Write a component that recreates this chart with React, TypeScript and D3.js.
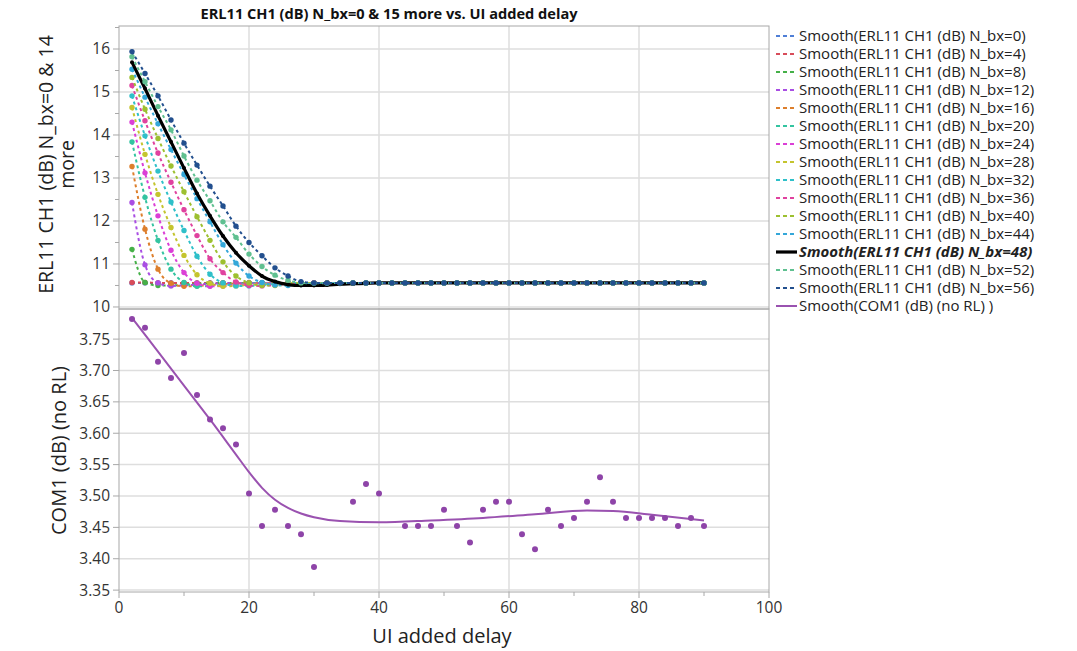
import React from 'react';
import * as d3 from 'd3';

// UI added delay values shared by every series
const delays = [
  2, 4, 6, 8, 10, 12, 14, 16, 18, 20, 22, 24, 26, 28, 30,
  32, 34, 36, 38, 40, 42, 44, 46, 48, 50, 52, 54, 56, 58, 60,
  62, 64, 66, 68, 70, 72, 74, 76, 78, 80, 82, 84, 86, 88, 90,
];

// ERL11 CH1 (dB), one array per N_bx setting
const erlNbx0 = [
  10.56, 10.56, 10.56, 10.56, 10.56, 10.56, 10.56, 10.56, 10.56, 10.56, 10.56, 10.56, 10.56, 10.56, 10.56,
  10.56, 10.56, 10.56, 10.56, 10.56, 10.56, 10.56, 10.56, 10.56, 10.56, 10.56, 10.56, 10.56, 10.56, 10.56,
  10.56, 10.56, 10.56, 10.56, 10.56, 10.56, 10.56, 10.56, 10.56, 10.56, 10.56, 10.56, 10.56, 10.56, 10.56,
];
const erlNbx4 = [
  10.57, 10.57, 10.56, 10.56, 10.56, 10.56, 10.56, 10.56, 10.56, 10.56, 10.56, 10.56, 10.56, 10.56, 10.56,
  10.56, 10.56, 10.56, 10.56, 10.56, 10.56, 10.56, 10.56, 10.56, 10.56, 10.56, 10.56, 10.56, 10.56, 10.56,
  10.56, 10.56, 10.56, 10.56, 10.56, 10.56, 10.56, 10.56, 10.56, 10.56, 10.56, 10.56, 10.56, 10.56, 10.56,
];
const erlNbx8 = [
  11.34, 10.57, 10.50, 10.50, 10.52, 10.54, 10.55, 10.56, 10.56, 10.56, 10.56, 10.56, 10.56, 10.56, 10.56,
  10.56, 10.56, 10.56, 10.56, 10.56, 10.56, 10.56, 10.56, 10.56, 10.56, 10.56, 10.56, 10.56, 10.56, 10.56,
  10.56, 10.56, 10.56, 10.56, 10.56, 10.56, 10.56, 10.56, 10.56, 10.56, 10.56, 10.56, 10.56, 10.56, 10.56,
];
const erlNbx12 = [
  12.43, 10.98, 10.56, 10.49, 10.50, 10.52, 10.54, 10.55, 10.56, 10.56, 10.56, 10.56, 10.56, 10.56, 10.56,
  10.56, 10.56, 10.56, 10.56, 10.56, 10.56, 10.56, 10.56, 10.56, 10.56, 10.56, 10.56, 10.56, 10.56, 10.56,
  10.56, 10.56, 10.56, 10.56, 10.56, 10.56, 10.56, 10.56, 10.56, 10.56, 10.56, 10.56, 10.56, 10.56, 10.56,
];
const erlNbx16 = [
  13.27, 11.81, 10.88, 10.55, 10.48, 10.49, 10.51, 10.53, 10.55, 10.56, 10.56, 10.56, 10.56, 10.56, 10.56,
  10.56, 10.56, 10.56, 10.56, 10.56, 10.56, 10.56, 10.56, 10.56, 10.56, 10.56, 10.56, 10.56, 10.56, 10.56,
  10.56, 10.56, 10.56, 10.56, 10.56, 10.56, 10.56, 10.56, 10.56, 10.56, 10.56, 10.56, 10.56, 10.56, 10.56,
];
const erlNbx20 = [
  13.84, 12.55, 11.55, 10.88, 10.57, 10.48, 10.49, 10.51, 10.53, 10.55, 10.56, 10.56, 10.56, 10.56, 10.56,
  10.56, 10.56, 10.56, 10.56, 10.56, 10.56, 10.56, 10.56, 10.56, 10.56, 10.56, 10.56, 10.56, 10.56, 10.56,
  10.56, 10.56, 10.56, 10.56, 10.56, 10.56, 10.56, 10.56, 10.56, 10.56, 10.56, 10.56, 10.56, 10.56, 10.56,
];
const erlNbx24 = [
  14.30, 13.12, 12.12, 11.32, 10.80, 10.55, 10.48, 10.49, 10.51, 10.53, 10.55, 10.56, 10.56, 10.56, 10.56,
  10.56, 10.56, 10.56, 10.56, 10.56, 10.56, 10.56, 10.56, 10.56, 10.56, 10.56, 10.56, 10.56, 10.56, 10.56,
  10.56, 10.56, 10.56, 10.56, 10.56, 10.56, 10.56, 10.56, 10.56, 10.56, 10.56, 10.56, 10.56, 10.56, 10.56,
];
const erlNbx28 = [
  14.64, 13.55, 12.62, 11.85, 11.20, 10.75, 10.55, 10.48, 10.49, 10.51, 10.53, 10.55, 10.56, 10.56, 10.56,
  10.56, 10.56, 10.56, 10.56, 10.56, 10.56, 10.56, 10.56, 10.56, 10.56, 10.56, 10.56, 10.56, 10.56, 10.56,
  10.56, 10.56, 10.56, 10.56, 10.56, 10.56, 10.56, 10.56, 10.56, 10.56, 10.56, 10.56, 10.56, 10.56, 10.56,
];
const erlNbx32 = [
  14.91, 13.98, 13.16, 12.44, 11.78, 11.18, 10.76, 10.56, 10.49, 10.49, 10.51, 10.53, 10.55, 10.56, 10.56,
  10.56, 10.56, 10.56, 10.56, 10.56, 10.56, 10.56, 10.56, 10.56, 10.56, 10.56, 10.56, 10.56, 10.56, 10.56,
  10.56, 10.56, 10.56, 10.56, 10.56, 10.56, 10.56, 10.56, 10.56, 10.56, 10.56, 10.56, 10.56, 10.56, 10.56,
];
const erlNbx36 = [
  15.15, 14.33, 13.58, 12.90, 12.26, 11.66, 11.12, 10.80, 10.58, 10.50, 10.49, 10.51, 10.53, 10.55, 10.56,
  10.56, 10.56, 10.56, 10.56, 10.56, 10.56, 10.56, 10.56, 10.56, 10.56, 10.56, 10.56, 10.56, 10.56, 10.56,
  10.56, 10.56, 10.56, 10.56, 10.56, 10.56, 10.56, 10.56, 10.56, 10.56, 10.56, 10.56, 10.56, 10.56, 10.56,
];
const erlNbx40 = [
  15.34, 14.60, 13.92, 13.28, 12.68, 12.10, 11.55, 11.05, 10.72, 10.56, 10.50, 10.50, 10.52, 10.54, 10.55,
  10.56, 10.56, 10.56, 10.56, 10.56, 10.56, 10.56, 10.56, 10.56, 10.56, 10.56, 10.56, 10.56, 10.56, 10.56,
  10.56, 10.56, 10.56, 10.56, 10.56, 10.56, 10.56, 10.56, 10.56, 10.56, 10.56, 10.56, 10.56, 10.56, 10.56,
];
const erlNbx44 = [
  15.53, 14.88, 14.26, 13.66, 13.08, 12.52, 11.98, 11.45, 11.02, 10.72, 10.57, 10.51, 10.50, 10.52, 10.54,
  10.55, 10.56, 10.56, 10.56, 10.56, 10.56, 10.56, 10.56, 10.56, 10.56, 10.56, 10.56, 10.56, 10.56, 10.56,
  10.56, 10.56, 10.56, 10.56, 10.56, 10.56, 10.56, 10.56, 10.56, 10.56, 10.56, 10.56, 10.56, 10.56, 10.56,
];
const erlNbx48 = [
  15.69, 15.08, 14.45, 13.84, 13.23, 12.64, 12.12, 11.65, 11.26, 10.96, 10.72, 10.59, 10.52, 10.50, 10.50,
  10.51, 10.53, 10.54, 10.55, 10.56, 10.56, 10.56, 10.56, 10.56, 10.56, 10.56, 10.56, 10.56, 10.56, 10.56,
  10.56, 10.56, 10.56, 10.56, 10.56, 10.56, 10.56, 10.56, 10.56, 10.56, 10.56, 10.56, 10.56, 10.56, 10.56,
];
const erlNbx52 = [
  15.82, 15.24, 14.66, 14.12, 13.51, 12.95, 12.47, 11.98, 11.62, 11.23, 10.94, 10.74, 10.62, 10.56, 10.55,
  10.55, 10.56, 10.56, 10.56, 10.56, 10.56, 10.56, 10.56, 10.56, 10.56, 10.56, 10.56, 10.56, 10.56, 10.56,
  10.56, 10.56, 10.56, 10.56, 10.56, 10.56, 10.56, 10.56, 10.56, 10.56, 10.56, 10.56, 10.56, 10.56, 10.56,
];
const erlNbx56 = [
  15.94, 15.43, 14.91, 14.35, 13.81, 13.30, 12.81, 12.35, 11.88, 11.50, 11.19, 10.91, 10.72, 10.59, 10.56,
  10.56, 10.56, 10.56, 10.56, 10.56, 10.56, 10.56, 10.56, 10.56, 10.56, 10.56, 10.56, 10.56, 10.56, 10.56,
  10.56, 10.56, 10.56, 10.56, 10.56, 10.56, 10.56, 10.56, 10.56, 10.56, 10.56, 10.56, 10.56, 10.56, 10.56,
];

const nbxSettings = [0, 4, 8, 12, 16, 20, 24, 28, 32, 36, 40, 44, 48, 52, 56];
const erlValues = [
  erlNbx0, erlNbx4, erlNbx8, erlNbx12, erlNbx16, erlNbx20, erlNbx24, erlNbx28,
  erlNbx32, erlNbx36, erlNbx40, erlNbx44, erlNbx48, erlNbx52, erlNbx56,
];
const erlColors = [
  '#4f7fd6', '#d84c5a', '#45b048', '#a94ee3', '#dd7f2c', '#33c4a0', '#db3fd6', '#c4c42e',
  '#2fc0c9', '#e0429f', '#9dc030', '#34a7d9', '#000000', '#5fc090', '#224f8e',
];
const highlightedNbx = 48;

// COM1 (dB) (no RL) observations
const comDelays = [
  2, 4, 6, 8, 10, 12, 14, 16, 18, 20, 22, 24, 26, 28, 30,
  36, 38, 40, 44, 46, 48, 50, 52, 54, 56, 58, 60, 62, 64, 66,
  68, 70, 72, 74, 76, 78, 80, 82, 84, 86, 88, 90,
];
const comValues = [
  3.782, 3.768, 3.714, 3.688, 3.728, 3.661, 3.622, 3.608, 3.582, 3.504, 3.452, 3.478, 3.452, 3.439, 3.387,
  3.491, 3.519, 3.504, 3.452, 3.452, 3.452, 3.478, 3.452, 3.426, 3.478, 3.491, 3.491, 3.439, 3.415, 3.478,
  3.452, 3.465, 3.491, 3.530, 3.491, 3.465, 3.465, 3.465, 3.465, 3.452, 3.465, 3.452,
];
// smoothed COM1 curve
const comSmoothDelays = [2, 6, 10, 14, 18, 20, 22, 24, 26, 28, 30, 34, 40, 48, 56, 64, 72, 76, 82, 90];
const comSmoothValues = [
  3.784, 3.730, 3.676, 3.622, 3.566, 3.538, 3.513, 3.494, 3.481, 3.472, 3.466, 3.460, 3.458, 3.461,
  3.465, 3.471, 3.477, 3.476, 3.470, 3.461,
];

const xTicks = [0, 20, 40, 60, 80, 100];
const xMinorTicks = [10, 30, 50, 70, 90];
const erlTicks = [10, 11, 12, 13, 14, 15, 16];
const erlMinorTicks = [10.5, 11.5, 12.5, 13.5, 14.5, 15.5, 16.5];
const comTicks = [3.35, 3.4, 3.45, 3.5, 3.55, 3.6, 3.65, 3.7, 3.75];

const FONT = "'Open Sans', 'Noto Sans', sans-serif";
const W = 1077;
const H = 651;
const left = 119;
const right = 769;
const topY = 26;
const midY = 309;
const bottomY = 592;

export default function App() {
  const x = d3.scaleLinear().domain([0, 100]).range([left, right]);
  const yErl = d3.scaleLinear().domain([9.953, 16.535]).range([midY, topY]);
  const yCom = d3.scaleLinear().domain([3.347, 3.798]).range([bottomY, midY]);

  const erlLine = d3
    .line<number>()
    .x((_, i) => x(delays[i]))
    .y((v) => yErl(v))
    .curve(d3.curveMonotoneX);

  const comLine = d3
    .line<number>()
    .x((_, i) => x(comSmoothDelays[i]))
    .y((v) => yCom(v))
    .curve(d3.curveMonotoneX);

  const grid = '#dedede';
  const frame = '#a8a8a8';
  const tickText = '#333';

  return (
    <svg
      width={W}
      height={H}
      style={{ position: 'absolute', left: 0, top: 0, background: '#fff' }}
      fontFamily={FONT}
    >
      <defs>
        <clipPath id="erlClip">
          <rect x={left} y={topY} width={right - left} height={midY - topY} />
        </clipPath>
        <clipPath id="comClip">
          <rect x={left} y={midY} width={right - left} height={bottomY - midY} />
        </clipPath>
      </defs>

      {/* title */}
      <text x={389} y={19} textAnchor="middle" fontSize={14.6} fontWeight="bold" fill="#111">
        ERL11 CH1 (dB) N_bx=0 &amp; 15 more vs. UI added delay
      </text>

      {/* grid lines */}
      {erlTicks.map((t) => (
        <line key={'ge' + t} x1={left} x2={right} y1={yErl(t)} y2={yErl(t)} stroke={grid} strokeWidth={1.5} />
      ))}
      {comTicks.map((t) => (
        <line key={'gc' + t} x1={left} x2={right} y1={yCom(t)} y2={yCom(t)} stroke={grid} strokeWidth={1.5} />
      ))}
      {xTicks.slice(1, -1).map((t) => (
        <line key={'gx' + t} x1={x(t)} x2={x(t)} y1={topY} y2={bottomY} stroke={grid} strokeWidth={1.5} />
      ))}

      {/* ERL series */}
      <g clipPath="url(#erlClip)">
        {erlValues.map((vals, s) => {
          const hl = nbxSettings[s] === highlightedNbx;
          return (
            <g key={'s' + s}>
              <path
                d={erlLine(vals) || ''}
                fill="none"
                stroke={erlColors[s]}
                strokeWidth={hl ? 3.2 : 2}
                strokeDasharray={hl ? undefined : '3 3'}
              />
              {vals.map((v, i) => (
                <circle key={i} cx={x(delays[i])} cy={yErl(v)} r={hl ? 2 : 2.7} fill={erlColors[s]} />
              ))}
            </g>
          );
        })}
      </g>

      {/* COM1 panel */}
      <g clipPath="url(#comClip)">
        <path d={comLine(comSmoothValues) || ''} fill="none" stroke="#9a52b0" strokeWidth={2} />
        {comValues.map((v, i) => (
          <circle key={i} cx={x(comDelays[i])} cy={yCom(v)} r={3} fill="#8e44a8" />
        ))}
      </g>

      {/* frames */}
      <rect x={left} y={topY} width={right - left} height={midY - topY} fill="none" stroke={frame} strokeWidth={1} />
      <rect x={left} y={midY} width={right - left} height={bottomY - midY} fill="none" stroke={frame} strokeWidth={1} />

      {/* ERL axis */}
      {erlTicks.map((t) => (
        <g key={'te' + t}>
          <line x1={left - 6} x2={left} y1={yErl(t)} y2={yErl(t)} stroke={frame} />
          <text x={left - 9} y={yErl(t)} dy="0.35em" textAnchor="end" fontSize={15.5} fill={tickText}>
            {t}
          </text>
        </g>
      ))}
      {erlMinorTicks
        .filter((t) => yErl(t) > topY)
        .map((t) => (
          <line key={'me' + t} x1={left - 4} x2={left} y1={yErl(t)} y2={yErl(t)} stroke={frame} />
        ))}

      {/* COM axis */}
      {comTicks.map((t) => (
        <g key={'tc' + t}>
          <line x1={left - 6} x2={left} y1={yCom(t)} y2={yCom(t)} stroke={frame} />
          <text x={left - 9} y={yCom(t)} dy="0.35em" textAnchor="end" fontSize={15.5} fill={tickText}>
            {t.toFixed(2)}
          </text>
        </g>
      ))}

      {/* x axis */}
      {xTicks.map((t) => (
        <g key={'tx' + t}>
          <line x1={x(t)} x2={x(t)} y1={bottomY} y2={bottomY + 6} stroke={frame} />
          <text x={x(t)} y={bottomY + 21} textAnchor="middle" fontSize={15.5} fill={tickText}>
            {t}
          </text>
        </g>
      ))}
      {xMinorTicks.map((t) => (
        <line key={'mx' + t} x1={x(t)} x2={x(t)} y1={bottomY} y2={bottomY + 4} stroke={frame} />
      ))}

      {/* axis titles */}
      <text x={442} y={643} textAnchor="middle" fontSize={20} fill="#222">
        UI added delay
      </text>
      <g transform={`translate(53, ${(topY + midY) / 2 - 3}) rotate(-90)`}>
        <text x={0} y={0} textAnchor="middle" fontSize={19.5} fill="#222">
          ERL11 CH1 (dB) N_bx=0 &amp; 14
        </text>
        <text x={0} y={21} textAnchor="middle" fontSize={19.5} fill="#222">
          more
        </text>
      </g>
      <text
        transform={`translate(66, ${(midY + bottomY) / 2}) rotate(-90)`}
        textAnchor="middle"
        fontSize={20}
        fill="#222"
      >
        COM1 (dB) (no RL)
      </text>

      {/* legend */}
      {nbxSettings.map((n, s) => {
        const ly = 36 + s * 18;
        const hl = n === highlightedNbx;
        return (
          <g key={'lg' + n}>
            <line
              x1={776}
              x2={797}
              y1={ly}
              y2={ly}
              stroke={erlColors[s]}
              strokeWidth={hl ? 3.2 : 2}
              strokeDasharray={hl ? undefined : '4 3'}
            />
            <text
              x={799}
              y={ly}
              dy="0.35em"
              fontSize={15}
              fill="#222"
              fontWeight={hl ? 'bold' : 'normal'}
              fontStyle={hl ? 'italic' : 'normal'}
            >
              {`Smooth(ERL11 CH1 (dB) N_bx=${n})`}
            </text>
          </g>
        );
      })}
      <line x1={776} x2={797} y1={306} y2={306} stroke="#9a52b0" strokeWidth={2} />
      <text x={799} y={306} dy="0.35em" fontSize={15} fill="#222">
        Smooth(COM1 (dB) (no RL) )
      </text>
    </svg>
  );
}
